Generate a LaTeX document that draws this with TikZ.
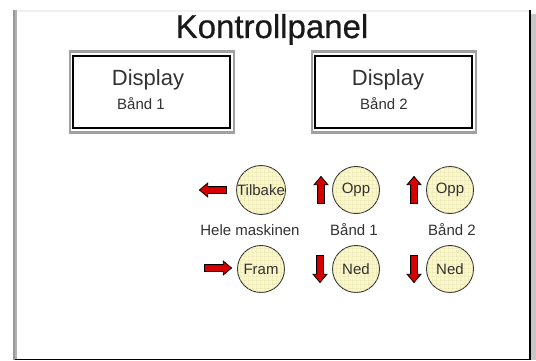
\documentclass[tikz,border=0pt]{standalone}
\usepackage{fontspec}
\setmainfont{Liberation Sans}
\newfontfamily\tittelfont[FakeBold=0.6]{Liberation Sans}
\usetikzlibrary{shapes.arrows, patterns}
\definecolor{knappgul}{RGB}{250, 247, 200}
\definecolor{rutenett}{RGB}{226, 220, 172}
\definecolor{pilrod}{RGB}{215, 0, 0}
\definecolor{rammegra}{RGB}{160, 160, 160}
\definecolor{tekstgra}{RGB}{50, 50, 50}
% a wider grid for the buttons
\pgfdeclarepatternformonly{knappnett}{\pgfpointorigin}{\pgfqpoint{4pt}{4pt}}{\pgfqpoint{4pt}{4pt}}{%
  \pgfsetlinewidth{0.6pt}
  \pgfpathmoveto{\pgfqpoint{0pt}{0.3pt}}\pgfpathlineto{\pgfqpoint{4pt}{0.3pt}}
  \pgfpathmoveto{\pgfqpoint{0.3pt}{0pt}}\pgfpathlineto{\pgfqpoint{0.3pt}{4pt}}
  \pgfusepath{stroke}}
\tikzset{
  knapp/.style={circle, draw=black!80, line width=0.9pt, fill=knappgul,
    minimum size=47pt, inner sep=0pt, font=\fontsize{15}{15}\selectfont,
    text=tekstgra, postaction={pattern=knappnett, pattern color=rutenett}},
  pil/.style={single arrow, draw=black, line width=0.8pt, fill=pilrod,
    minimum height=27pt, single arrow head extend=3.5pt,
    single arrow tip angle=80, inner sep=3pt},
  displaykant/.style={draw=rammegra, line width=2.5pt, minimum width=164pt,
    minimum height=81pt, inner sep=0pt},
  display/.style={draw=black, line width=2pt, minimum width=157pt,
    minimum height=72pt, inner sep=0pt},
  merke/.style={font=\fontsize{15}{15}\selectfont, text=tekstgra, anchor=base}
}

\begin{document}
\begin{tikzpicture}[x=1pt, y=-1pt]
        \useasboundingbox (0,0) rectangle (536,361);

        % Frame of the panel
        \fill[white] (0,0) rectangle (536,361);
        \fill[black!6] (17,10) rectangle (529,12);
        \fill[black!40] (13,10) rectangle (15,360);
        \fill[black!30] (15,10) rectangle (17,360);
        \fill[black!22] (531,14) rectangle (536,360);
        \fill[black] (529,10) rectangle (531,360);
        \fill[black] (15,358.8) rectangle (531,360.2);

        % Title
        \node[font=\tittelfont\fontsize{33}{33}\selectfont, text=black!90, anchor=base] (tittel) at (272,38) {Kontrollpanel};

        % Two displays
        \node[displaykant] (kant1) at (152,92) {};
        \node[display] (disp1) at (151,92) {};
        \node[font=\fontsize{22}{22}\selectfont, text=tekstgra, anchor=base] (disp1navn) at (148,85) {Display};
        \node[merke] (disp1band) at (141,110) {Bånd 1};

        \node[displaykant] (kant2) at (394,92) {};
        \node[display] (disp2) at (393.5,92) {};
        \node[font=\fontsize{22}{22}\selectfont, text=tekstgra, anchor=base] (disp2navn) at (388,85) {Display};
        \node[merke] (disp2band) at (384,110) {Bånd 2};

        % Buttons
        \node[knapp] (tilbake) at (261,190) {Tilbake};
        \node[knapp] (fram) at (261,269) {Fram};
        \node[knapp] (opp1) at (356,190) {Opp};
        \node[knapp] (ned1) at (356,269) {Ned};
        \node[knapp] (opp2) at (450,190) {Opp};
        \node[knapp] (ned2) at (450,269) {Ned};

        % Red arrows beside the buttons
        \node[pil, rotate=180] (piltilbake) at (215,190) {};
        \node[pil] (pilfram) at (216,268) {};
        \node[pil, rotate=90] (pilopp1) at (321,192) {};
        \node[pil, rotate=-90] (pilned1) at (320,267) {};
        \node[pil, rotate=90] (pilopp2) at (414,192) {};
        \node[pil, rotate=-90] (pilned2) at (414,267) {};

        % Labels between the rows
        \node[merke] (helemaskinen) at (250,235) {Hele maskinen};
        \node[merke] (band1) at (354,235) {Bånd 1};
        \node[merke] (band2) at (452,235) {Bånd 2};
\end{tikzpicture}
\end{document}
